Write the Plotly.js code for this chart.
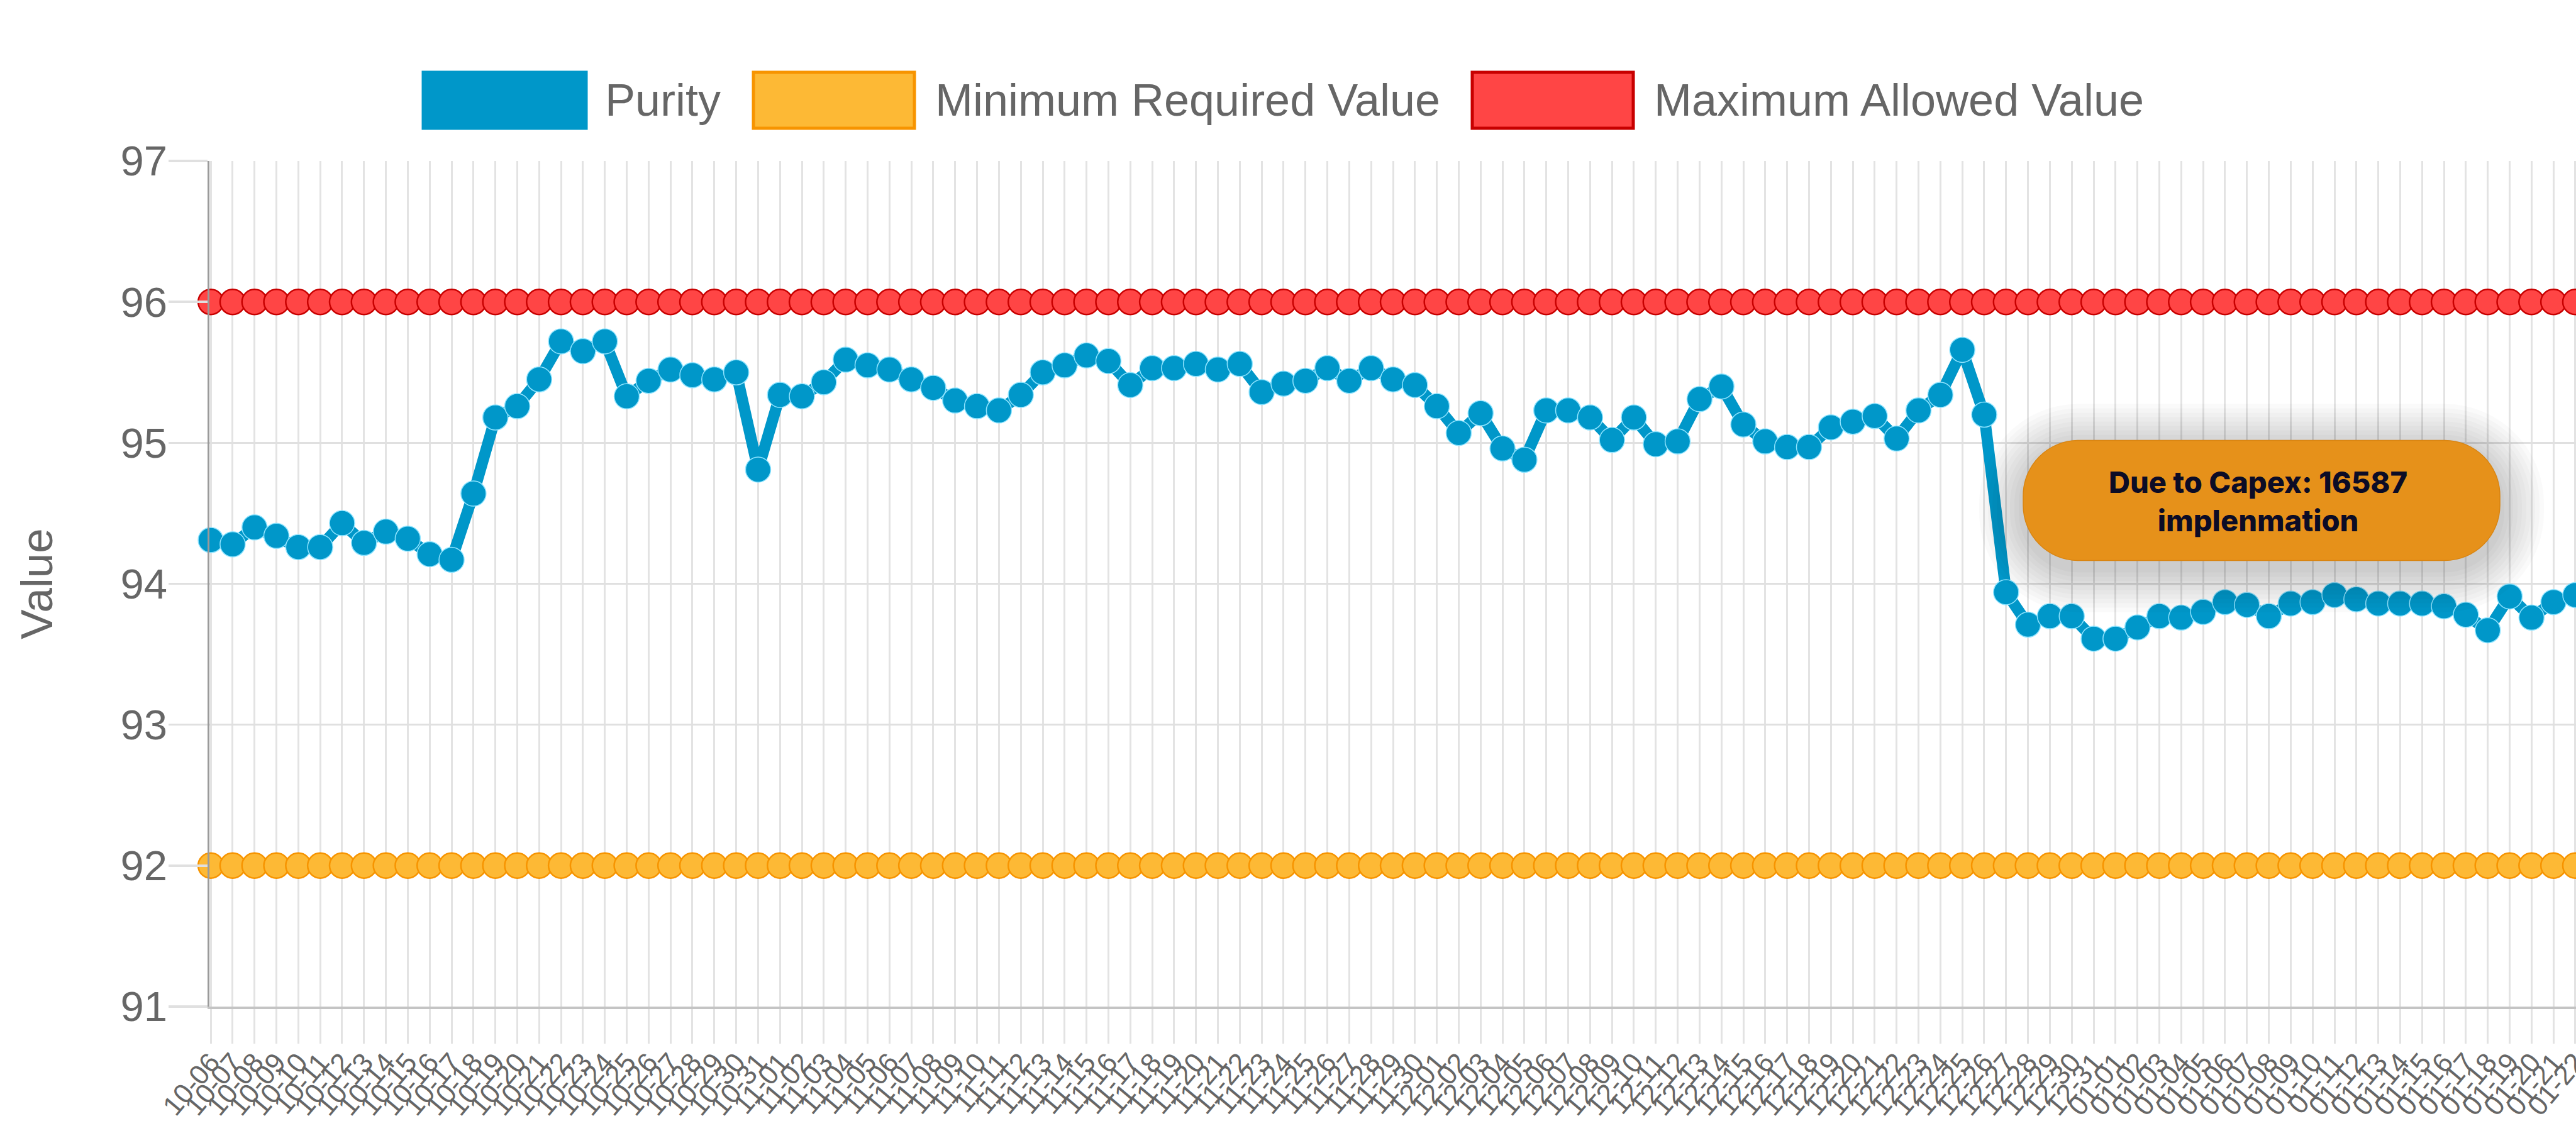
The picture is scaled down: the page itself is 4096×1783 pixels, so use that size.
<!DOCTYPE html>
<html>
<head>
<meta charset="utf-8">
<script src="https://cdn.plot.ly/plotly-3.0.1.min.js"></script>
<style>
html,body{margin:0;padding:0;background:#ffffff;overflow:hidden;}
#chart{width:4096px;height:1783px;}
</style>
</head>
<body>
<div id="chart"></div>
<script>
// ---------------- DATA ----------------
const dates = [
"10-06","10-07","10-08","10-09","10-10","10-11","10-12","10-13","10-14","10-15",
"10-16","10-17","10-18","10-19","10-20","10-21","10-22","10-23","10-24","10-25",
"10-26","10-27","10-28","10-29","10-30","10-31","11-01","11-02","11-03","11-04",
"11-05","11-06","11-07","11-08","11-09","11-10","11-11","11-12","11-13","11-14",
"11-15","11-16","11-17","11-18","11-19","11-20","11-21","11-22","11-23","11-24",
"11-25","11-26","11-27","11-28","11-29","11-30","12-01","12-02","12-03","12-04",
"12-05","12-06","12-07","12-08","12-09","12-10","12-11","12-12","12-13","12-14",
"12-15","12-16","12-17","12-18","12-19","12-20","12-21","12-22","12-23","12-24",
"12-25","12-26","12-27","12-28","12-29","12-30","12-31","01-01","01-02","01-03",
"01-04","01-05","01-06","01-07","01-08","01-09","01-10","01-11","01-12","01-13",
"01-14","01-15","01-16","01-17","01-18","01-19","01-20","01-21","01-22"
];

const purity = [
94.31,94.28,94.40,94.34,94.26,94.26,94.43,94.29,94.37,94.32,
94.21,94.17,94.64,95.18,95.26,95.45,95.72,95.65,95.72,95.33,
95.44,95.52,95.48,95.45,95.50,94.81,95.34,95.33,95.43,95.59,
95.55,95.52,95.45,95.39,95.30,95.26,95.23,95.34,95.50,95.55,
95.62,95.58,95.41,95.53,95.53,95.56,95.52,95.56,95.36,95.42,
95.44,95.53,95.44,95.53,95.45,95.41,95.26,95.07,95.21,94.96,
94.88,95.23,95.23,95.18,95.02,95.18,94.99,95.01,95.31,95.40,
95.13,95.01,94.97,94.97,95.11,95.15,95.19,95.03,95.23,95.34,
95.66,95.20,93.94,93.71,93.77,93.77,93.61,93.61,93.69,93.77,
93.76,93.80,93.87,93.85,93.77,93.86,93.87,93.92,93.89,93.86,
93.86,93.86,93.84,93.78,93.67,93.91,93.76,93.87,93.92
];

const minRequired = [
92,92,92,92,92,92,92,92,92,92,92,92,92,92,92,92,92,92,92,92,
92,92,92,92,92,92,92,92,92,92,92,92,92,92,92,92,92,92,92,92,
92,92,92,92,92,92,92,92,92,92,92,92,92,92,92,92,92,92,92,92,
92,92,92,92,92,92,92,92,92,92,92,92,92,92,92,92,92,92,92,92,
92,92,92,92,92,92,92,92,92,92,92,92,92,92,92,92,92,92,92,92,
92,92,92,92,92,92,92,92,92
];

const maxAllowed = [
96,96,96,96,96,96,96,96,96,96,96,96,96,96,96,96,96,96,96,96,
96,96,96,96,96,96,96,96,96,96,96,96,96,96,96,96,96,96,96,96,
96,96,96,96,96,96,96,96,96,96,96,96,96,96,96,96,96,96,96,96,
96,96,96,96,96,96,96,96,96,96,96,96,96,96,96,96,96,96,96,96,
96,96,96,96,96,96,96,96,96,96,96,96,96,96,96,96,96,96,96,96,
96,96,96,96,96,96,96,96,96
];

const seriesNames = ["Purity", "Minimum Required Value", "Maximum Allowed Value"];
const yTicks = [91, 92, 93, 94, 95, 96, 97];
const noteText = "Due to Capex: 16587<br>implenmation";

// ---------------- LAYOUT GEOMETRY ----------------
const W = 4096, H = 1783;
const ML = 333, MR = 0, MT = 256, MB = 182;
const PW = W - ML - MR, PH = H - MT - MB;
const fx = px => (px - ML) / PW;
const fy = py => (MT + PH - py) / PH;

const FONT = "Liberation Sans, Arial, Helvetica, sans-serif";
const GREY = "#666666";

const cBlue = "#0097c9";
const cOrangeFill = "#fdb935", cOrangeLine = "#f79400";
const cRedFill = "#ff4545", cRedLine = "#c80000";

// rounded rectangle path in paper coords from pixel geometry
function rr(cx, cy, w, h, r) {
  const k = 0.5523 * r;
  const x0 = cx - w / 2, x1 = cx + w / 2, y0 = cy - h / 2, y1 = cy + h / 2;
  const P = (x, y) => fx(x).toFixed(6) + "," + fy(y).toFixed(6);
  return "M" + P(x0 + r, y0) +
    " L" + P(x1 - r, y0) +
    " C" + P(x1 - r + k, y0) + " " + P(x1, y0 + r - k) + " " + P(x1, y0 + r) +
    " L" + P(x1, y1 - r) +
    " C" + P(x1, y1 - r + k) + " " + P(x1 - r + k, y1) + " " + P(x1 - r, y1) +
    " L" + P(x0 + r, y1) +
    " C" + P(x0 + r - k, y1) + " " + P(x0, y1 - r + k) + " " + P(x0, y1 - r) +
    " L" + P(x0, y0 + r) +
    " C" + P(x0, y0 + r - k) + " " + P(x0 + r - k, y0) + " " + P(x0 + r, y0) + " Z";
}

// ---------------- TRACES ----------------
const traces = [
  {
    type: "scatter", mode: "lines+markers", name: seriesNames[2],
    x: dates, y: maxAllowed, cliponaxis: false, showlegend: false,
    line: {color: cRedLine, width: 3},
    marker: {size: 40, color: cRedFill, line: {color: cRedLine, width: 2.5}}
  },
  {
    type: "scatter", mode: "lines+markers", name: seriesNames[1],
    x: dates, y: minRequired, cliponaxis: false, showlegend: false,
    line: {color: cOrangeLine, width: 3},
    marker: {size: 40, color: cOrangeFill, line: {color: cOrangeLine, width: 2.5}}
  },
  {
    type: "scatter", mode: "lines+markers", name: seriesNames[0],
    x: dates, y: purity, cliponaxis: false, showlegend: false,
    line: {color: cBlue, width: 18},
    marker: {size: 40, color: cBlue, line: {color: "#8fe4ff", width: 1.5}}
  }
];

// ---------------- LEGEND (manual, Chart.js style boxes) ----------------
const legendItems = [
  {name: seriesNames[0], x0: 673, x1: 932, fill: cBlue, line: cBlue, tx: 960},
  {name: seriesNames[1], x0: 1198, x1: 1454, fill: cOrangeFill, line: cOrangeLine, tx: 1485},
  {name: seriesNames[2], x0: 2341, x1: 2597, fill: cRedFill, line: cRedLine, tx: 2628}
];
const LEG_Y0 = 115, LEG_Y1 = 204, LEG_TY = 159;

const shapes = [];
const annotations = [];

legendItems.forEach(it => {
  shapes.push({
    type: "rect", xref: "paper", yref: "paper",
    x0: fx(it.x0), x1: fx(it.x1), y0: fy(LEG_Y1), y1: fy(LEG_Y0),
    fillcolor: it.fill, line: {color: it.line, width: 5}, layer: "above"
  });
  annotations.push({
    xref: "paper", yref: "paper", x: fx(it.tx), y: fy(LEG_TY),
    xanchor: "left", yanchor: "middle", showarrow: false,
    text: it.name, font: {family: FONT, size: 72, color: GREY}
  });
});

// ---------------- NOTE PILL ----------------
const PCX = 3596, PCY = 796, PWD = 758, PHT = 191, PR = 88;
for (let i = 10; i >= 1; i--) {
  const e = i * 7;
  shapes.push({
    type: "path", xref: "paper", yref: "paper",
    path: rr(PCX, PCY + 12, PWD + 2 * e, PHT + 2 * e, PR + e),
    fillcolor: "rgba(0,0,0,0.02)", line: {width: 0}, layer: "above"
  });
}
shapes.push({
  type: "path", xref: "paper", yref: "paper",
  path: rr(PCX, PCY, PWD, PHT, PR),
  fillcolor: "#e6911a", line: {color: "#d98512", width: 1.5}, layer: "above"
});
annotations.push({
  xref: "paper", yref: "paper", x: fx(3590), y: fy(797),
  xanchor: "center", yanchor: "middle", showarrow: false,
  text: noteText,
  font: {family: "Inter, Noto Sans, sans-serif", size: 47, color: "#0c0c26", weight: 800}
});

// ---------------- LAYOUT ----------------
const layout = {
  width: W, height: H,
  margin: {l: ML, r: MR, t: MT, b: MB, pad: 0},
  paper_bgcolor: "#ffffff", plot_bgcolor: "#ffffff",
  showlegend: false,
  hovermode: false,
  font: {family: FONT, color: GREY},
  xaxis: {
    type: "category",
    range: [-0.06, 108.03],
    tickmode: "array", tickvals: dates, ticktext: dates,
    tickangle: -50,
    tickfont: {family: FONT, size: 44, color: GREY},
    ticks: "outside", ticklen: 55, tickwidth: 3, tickcolor: "#e3e3e3",
    ticklabelstandoff: -14,
    showgrid: true, gridcolor: "#e3e3e3", gridwidth: 3,
    showline: true, linecolor: "#c4c4c4", linewidth: 4,
    zeroline: false, automargin: false, fixedrange: true
  },
  yaxis: {
    range: [91, 97],
    tickmode: "array", tickvals: yTicks, ticktext: yTicks.map(String),
    tickfont: {family: FONT, size: 67, color: GREY},
    ticks: "outside", ticklen: 62, tickwidth: 3.5, tickcolor: "#e0e0e0",
    ticklabelstandoff: -12,
    showgrid: true, gridcolor: "#e0e0e0", gridwidth: 3.5,
    showline: true, linecolor: "#9a9a9a", linewidth: 3.5,
    zeroline: false, automargin: false, fixedrange: true,
    title: {text: "Value", font: {family: FONT, size: 71, color: GREY}, standoff: 85}
  },
  shapes: shapes,
  annotations: annotations
};

Plotly.newPlot("chart", traces, layout, {displayModeBar: false, staticPlot: true, responsive: false});
</script>
</body>
</html>
